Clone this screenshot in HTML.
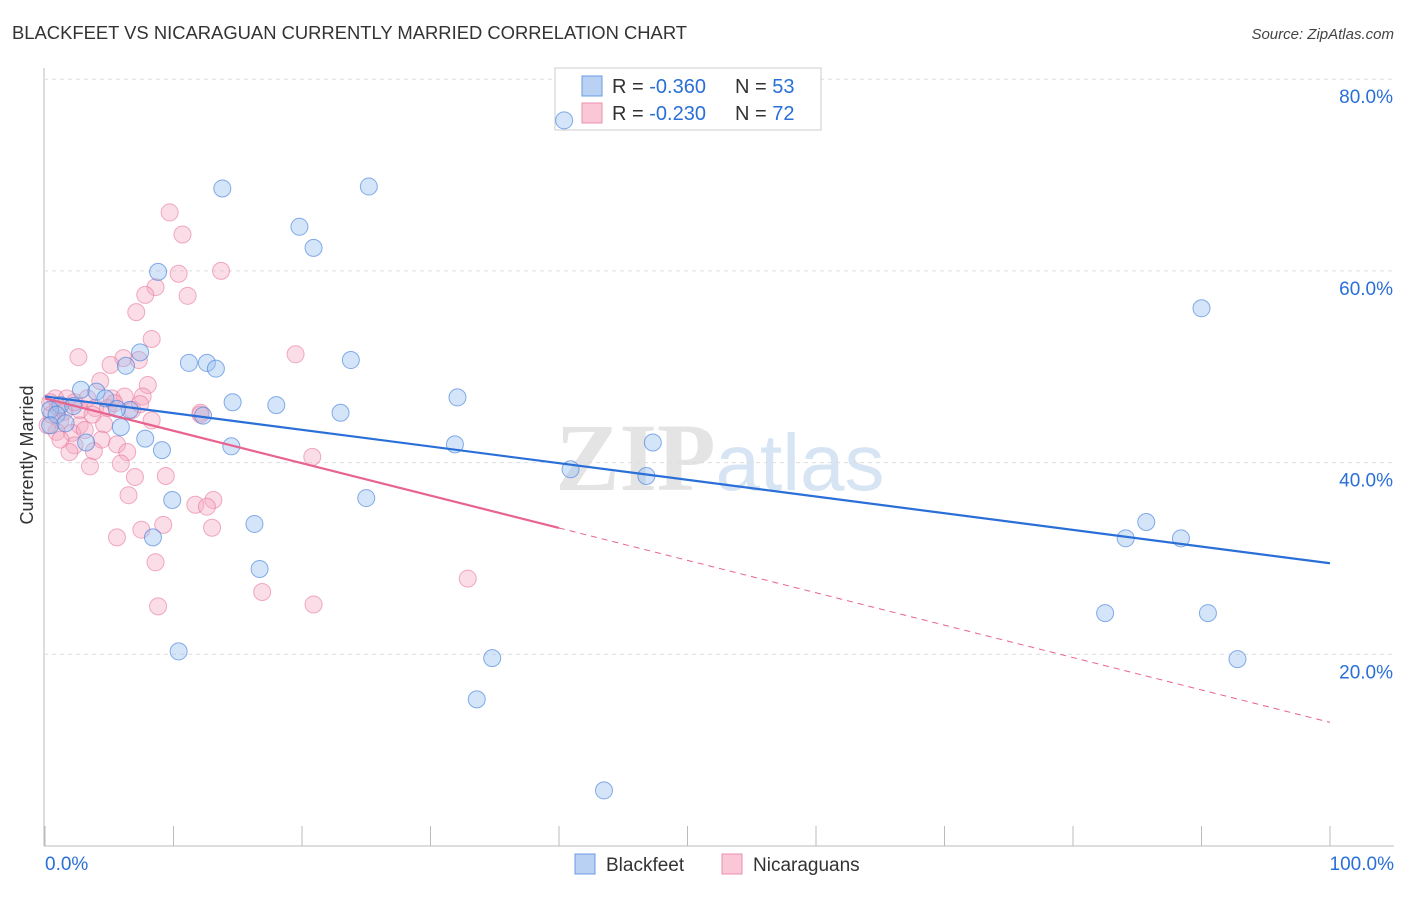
<!DOCTYPE html>
<html><head><meta charset="utf-8"><style>
body{margin:0;background:#fff;font-family:"Liberation Sans",sans-serif}
</style></head><body>
<svg id="c" width="1406" height="892" xmlns="http://www.w3.org/2000/svg" font-family="Liberation Sans, sans-serif">
<text x="12" y="39" font-size="18.4" fill="#333" textLength="675">BLACKFEET VS NICARAGUAN CURRENTLY MARRIED CORRELATION CHART</text>
<text x="1394" y="39" font-size="15" fill="#444" text-anchor="end" font-style="italic">Source: ZipAtlas.com</text>
<text x="720" y="490" font-size="96" text-anchor="middle" fill="#e4e4e4" font-family="Liberation Serif, serif" font-weight="bold">ZIP<tspan fill="#d6e4f4" font-family="Liberation Sans, sans-serif" font-weight="normal" font-size="80">atlas</tspan></text>
<text transform="translate(33,455) rotate(-90)" font-size="18" fill="#333" text-anchor="middle">Currently Married</text>
<g id="grid"></g>
<g>
<rect x="555" y="68" width="266" height="62" fill="#fff" stroke="#ccc"/>
<rect x="582" y="76" width="20" height="20" fill="#b9d2f3" stroke="#6a9be0"/>
<rect x="582" y="103" width="20" height="20" fill="#f9c7d6" stroke="#ec8fac"/>
<text x="612" y="93" font-size="20" fill="#333">R = <tspan fill="#2a6fd8">-0.360</tspan></text>
<text x="735" y="93" font-size="20" fill="#333">N = <tspan fill="#2a6fd8">53</tspan></text>
<text x="612" y="120" font-size="20" fill="#333">R = <tspan fill="#2a6fd8">-0.230</tspan></text>
<text x="735" y="120" font-size="20" fill="#333">N = <tspan fill="#2a6fd8">72</tspan></text>
</g>
<g id="pts"></g><g id="lines"></g>
<g>
<rect x="575" y="854" width="20" height="20" fill="#b9d2f3" stroke="#6a9be0"/>
<text x="606" y="871" font-size="19" fill="#333">Blackfeet</text>
<rect x="722" y="854" width="20" height="20" fill="#f9c7d6" stroke="#ec8fac"/>
<text x="753" y="871" font-size="19" fill="#333">Nicaraguans</text>
</g>
</svg>
<script>
const xTicks=[0,10,20,30,40,50,60,70,80,90,100];
const yTicks=[20,40,60,80];
const blueX=[40.4,13.8,25.2,19.8,20.9,8.8,90.0,7.4,6.3,11.2,12.6,13.3,23.8,2.8,4.0,32.1,14.6,18.0,4.7,6.6,1.2,2.2,0.4,0.9,12.3,23.0,5.9,7.8,3.2,14.5,9.1,31.9,47.3,40.9,46.8,9.9,25.0,16.3,8.4,85.7,84.1,88.4,16.7,82.5,90.5,10.4,34.8,92.8,33.6,43.5,0.4,1.6,5.6];
const blueY=[75.7,68.6,68.8,64.6,62.4,59.9,56.1,51.5,50.1,50.4,50.4,49.8,50.7,47.6,47.4,46.8,46.3,46.0,46.7,45.5,46.0,45.9,45.5,45.0,44.9,45.2,43.7,42.5,42.1,41.7,41.3,41.9,42.1,39.3,38.6,36.1,36.3,33.6,32.2,33.8,32.1,32.1,28.9,24.3,24.3,20.3,19.6,19.5,15.3,5.8,43.9,44.1,45.6];
const pinkX=[9.7,10.7,10.4,13.7,8.6,7.8,11.1,7.1,8.3,2.6,19.5,6.1,7.3,5.1,8.0,4.3,0.8,1.7,3.3,5.2,6.2,7.6,3.9,4.9,12.1,8.3,1.2,2.7,4.6,0.9,2.1,3.1,5.6,4.4,2.3,1.9,3.8,6.4,20.8,3.5,5.9,9.4,7.0,6.5,13.1,11.7,12.6,9.2,7.5,13.0,5.6,8.6,32.9,16.9,8.8,20.9,0.2,0.5,1.0,1.5,2.7,6.8,5.4,7.4,0.4,3.7,12.1,2.3,1.2];
const pinkY=[66.1,63.8,59.7,60.0,58.3,57.5,57.4,55.7,52.9,51.0,51.3,50.9,50.7,50.2,48.1,48.5,46.7,46.7,46.7,46.7,46.9,46.9,45.7,45.7,45.2,44.4,44.4,43.9,44.0,43.2,43.1,43.4,41.9,42.4,41.8,41.1,41.2,41.1,40.6,39.6,39.9,38.6,38.5,36.6,36.1,35.6,35.4,33.5,33.0,33.2,32.2,29.6,27.9,26.5,25.0,25.2,43.9,45.0,45.8,45.3,45.5,45.5,46.2,46.1,46.3,45.0,45.0,46.3,42.4];
const blueTrend=[46.9,29.5];
const pinkTrend=[46.7,12.9];
const pinkSolidEnd=40;
const NS='http://www.w3.org/2000/svg';
const sx=v=>45+v*12.85, sy=v=>846-v*9.585;
function mk(tag,attrs,parent){const e=document.createElementNS(NS,tag);for(const k in attrs)e.setAttribute(k,attrs[k]);parent.appendChild(e);return e;}
const grid=document.getElementById('grid');
const ax=mk('line',{x1:44,x2:44,y1:68,y2:846,stroke:'#bbb'},grid);


const xl=mk('line',{x1:44,x2:1394,y1:846,y2:846,stroke:'#bbb'},grid);


yTicks.forEach(t=>{
 const g=mk('line',{x1:44,x2:1394,y1:sy(t),y2:sy(t),stroke:'#ddd','stroke-dasharray':'4,4'},grid);
 
 
 const tx=mk('text',{x:1393,y:sy(t)+24,'font-size':19,fill:'#2a6fd8','text-anchor':'end'},grid);
 tx.textContent=t.toFixed(1)+'%';
 
 
});
xTicks.forEach(t=>{
 const l=mk('line',{x1:sx(t),x2:sx(t),y1:826,y2:846,stroke:'#bbb'},grid);
 
 
});
[[0,'0.0%','start',45],[100,'100.0%','end',1394]].forEach(a=>{
 const tx=mk('text',{x:a[3],y:870,'font-size':19,fill:'#2a6fd8','text-anchor':a[2]},grid);
 tx.textContent=a[1];
 
 
});
const pts=document.getElementById('pts');
pinkX.forEach((x,i)=>{
 const c=mk('circle',{cx:sx(x),cy:sy(pinkY[i]),r:8.5,fill:'rgba(246,170,195,0.4)',stroke:'rgba(232,120,155,0.6)','stroke-width':1},pts);
 
 
});
blueX.forEach((x,i)=>{
 const c=mk('circle',{cx:sx(x),cy:sy(blueY[i]),r:8.5,fill:'rgba(150,190,240,0.4)',stroke:'rgba(70,130,220,0.65)','stroke-width':1},pts);
 
 
});
const lines=document.getElementById('lines');
const bl=mk('line',{x1:sx(0),y1:sy(blueTrend[0]),x2:sx(100),y2:sy(blueTrend[1]),stroke:'#2a6fd8','stroke-width':2.2},lines);


const py=x=>pinkTrend[0]+(pinkTrend[1]-pinkTrend[0])*x/100;
const pl=mk('line',{x1:sx(0),y1:sy(py(0)),x2:sx(pinkSolidEnd),y2:sy(py(pinkSolidEnd)),stroke:'#e8638e','stroke-width':2.2},lines);


const pd=mk('line',{x1:sx(pinkSolidEnd),y1:sy(py(pinkSolidEnd)),x2:sx(100),y2:sy(py(100)),stroke:'#e8638e','stroke-width':1,'stroke-dasharray':'6,5'},lines);


</script>
</body></html>
